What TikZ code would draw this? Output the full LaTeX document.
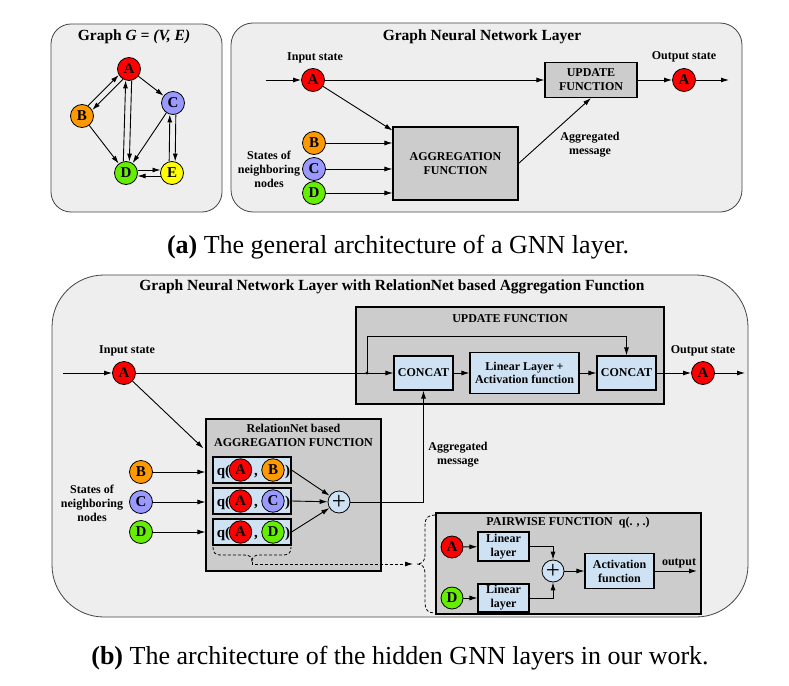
\documentclass[tikz,border=0pt]{standalone}
\usepackage{fontspec}
\setmainfont{Liberation Serif}
\usetikzlibrary{arrows.meta,calc}
\definecolor{panelbg}{HTML}{EEEEEE}
\definecolor{panelline}{HTML}{444444}
\definecolor{boxgray}{HTML}{CCCCCC}
\definecolor{lblue}{HTML}{CFE2F3}
\definecolor{cA}{HTML}{FF0000}
\definecolor{cB}{HTML}{FF9900}
\definecolor{cC}{HTML}{9999FF}
\definecolor{cD}{HTML}{66EE00}
\definecolor{cE}{HTML}{FFFF00}
\newcommand{\lblfont}{\bfseries\fontsize{12}{14}\selectfont}
\newcommand{\ttlfont}{\bfseries\fontsize{15.5}{17}\selectfont}
\newcommand{\circfont}{\bfseries\fontsize{15}{15}\selectfont}
\newcommand{\qfont}{\bfseries\fontsize{15}{15}\selectfont}
\newcommand{\capfont}{\fontsize{26}{30}\selectfont}
\newcommand{\twoway}[2]{%
  \draw[arr,shorten <=11.5pt,shorten >=11.5pt] ($(#1)!3pt!90:(#2)$) -- ($(#2)!3pt!-90:(#1)$);
  \draw[arr,shorten <=11.5pt,shorten >=11.5pt] ($(#2)!3pt!90:(#1)$) -- ($(#1)!3pt!-90:(#2)$);}
\begin{document}
\begin{tikzpicture}[x=1pt,y=-1pt,
  panel/.style={draw=panelline,fill=panelbg,line width=0.8pt},
  gbox/.style={draw=black,fill=boxgray,line width=1.1pt,align=center,inner sep=0pt,font=\lblfont},
  lbox/.style={draw=black,fill=lblue,line width=1.1pt,align=center,inner sep=0pt,font=\lblfont},
  circ/.style={circle,draw=black,line width=0.8pt,minimum size=23pt,inner sep=0pt,font=\circfont},
  pluscirc/.style={circle,draw=black,line width=0.8pt,fill=lblue,minimum size=22pt,inner sep=0pt,font=\fontsize{25}{25}\selectfont},
  arr/.style={-{Latex[length=8pt,width=5pt]},line width=0.9pt},
  lab/.style={font=\lblfont,align=center,inner sep=0pt},
  ttl/.style={font=\ttlfont,inner sep=0pt},
  qtxt/.style={font=\qfont,inner sep=0pt,anchor=base},
  dsh/.style={line width=0.8pt,dash pattern=on 3pt off 2pt},
]
\useasboundingbox (0,0) rectangle (789,685);
\fill[white] (0,0) rectangle (789,685);
% ---------- panel (a) left: graph ----------
\draw[panel,rounded corners=20pt] (51,24) rectangle (222,212);
\node[ttl] (gt) at (134,37) {Graph \textit{G = (V, E)}};
\node[circ,fill=cA] (gA) at (129,69) {A};
\node[circ,fill=cB] (gB) at (82,116) {B};
\node[circ,fill=cC] (gC) at (173,103) {C};
\node[circ,fill=cD] (gD) at (126,173) {D};
\node[circ,fill=cE] (gE) at (172,173) {E};
\twoway{gA}{gB}
\twoway{gA}{gD}
\twoway{gC}{gE}
\twoway{gD}{gE}
\draw[arr] (gA) -- (gC);
\draw[arr] (gB) -- (gD);
\draw[arr] (gC) -- (gD);
% ---------- panel (a) right: GNN layer ----------
\draw[panel,rounded corners=22pt] (231,23) rectangle (742,212);
\node[ttl] (t1) at (482,37) {Graph Neural Network Layer};
\node[lab] (in1) at (315,58) {Input state};
\node[circ,fill=cA] (a1) at (313,80) {A};
\coordinate (s1) at (266,80);
\draw[arr] (s1) -- (a1);
\node[gbox,minimum width=92pt,minimum height=35pt] (upd1) at (591,80) {UPDATE\\FUNCTION};
\draw[arr] (a1) -- (upd1);
\node[circ,fill=cA] (o1) at (684,80) {A};
\node[lab] (ou1) at (684,57) {Output state};
\draw[arr] (upd1) -- (o1);
\coordinate (e1) at (729,80);
\draw[arr] (o1) -- (e1);
\node[gbox,minimum width=125pt,minimum height=73pt] (agg1) at (455.5,163.5) {AGGREGATION\\FUNCTION};
\draw[arr] (a1) -- ($(agg1.north west)+(0,4)$);
\node[circ,fill=cB] (b1) at (314,143) {B};
\node[circ,fill=cC] (c1n) at (314,169) {C};
\node[circ,fill=cD] (d1) at (314,193) {D};
\draw[arr] (b1) -- (b1 -| agg1.west);
\draw[arr] (c1n) -- (c1n -| agg1.west);
\draw[arr] (d1) -- (d1 -| agg1.west);
\node[lab] (st1) at (269,169) {States of\\neighboring\\nodes};
\draw[arr] (agg1.east) -- (upd1.south);
\node[lab] (am1) at (590,145) {Aggregated\\message};
\node[font=\capfont,inner sep=0pt] (capa) at (398,247) {\textbf{(a)} The general architecture of a GNN layer.};
% ---------- panel (b) ----------
\draw[panel,rounded corners=52pt] (52,275) rectangle (748,617);
\node[ttl] (t2) at (392,287) {Graph Neural Network Layer with RelationNet based Aggregation Function};
\node[lab] (in2) at (127,351) {Input state};
\node[circ,fill=cA] (a2) at (124,373) {A};
\coordinate (s2) at (63,373);
\draw[arr] (s2) -- (a2);
\node[gbox,minimum width=308pt,minimum height=97pt] (upd2) at (510,355.5) {};
\node[lab] (ut2) at (510,319) {UPDATE FUNCTION};
\node[lbox,minimum width=59pt,minimum height=34pt] (cc1) at (423.5,373) {CONCAT};
\node[lbox,minimum width=109pt,minimum height=41pt,font=\bfseries\fontsize{12}{13}\selectfont] (lin) at (524.5,373) {Linear Layer +\\Activation function};
\node[lbox,minimum width=59pt,minimum height=34pt] (cc2) at (626.5,373) {CONCAT};
\coordinate (jn) at (367,373);
\draw[arr] (a2) -- (cc1);
\fill (jn) circle (1.6pt);
\draw[arr] (jn) -- ++(0,-37) -| (cc2.north);
\draw[arr] (cc1) -- (lin);
\draw[arr] (lin) -- (cc2);
\node[circ,fill=cA] (o2) at (703,373) {A};
\node[lab] (ou2) at (703,351) {Output state};
\draw[arr] (cc2) -- (o2);
\coordinate (e2) at (745,373);
\draw[arr] (o2) -- (e2);
% aggregation box
\node[gbox,minimum width=175pt,minimum height=152pt] (agg2) at (293.5,495) {};
\node[lab] (at2) at (293.5,435) {RelationNet based\\AGGREGATION FUNCTION};
\foreach \n/\y/\c/\L in {1/470/cB/B,2/501/cC/C,3/532/cD/D}{
  \node[lbox,minimum width=78pt,minimum height=26pt] (q\n) at (252,\y) {};
  \node[qtxt] (qo\n) at (223.5,\y+5) {q(};
  \node[circ,fill=cA,minimum size=22.5pt] (qa\n) at (240.5,\y) {A};
  \node[qtxt] (qm\n) at (256,\y+5) {,};
  \node[circ,fill=\c,minimum size=22.5pt] (qx\n) at (273,\y) {\L};
  \node[qtxt] (qc\n) at (287.5,\y+5) {)};
}
\node[circ,fill=cB] (b2) at (141,472) {B};
\node[circ,fill=cC] (c2n) at (141,502) {C};
\node[circ,fill=cD] (d2) at (141,532) {D};
\draw[arr] (b2) -- (b2 -| agg2.west);
\draw[arr] (c2n) -- (c2n -| agg2.west);
\draw[arr] (d2) -- (d2 -| agg2.west);
\node[lab] (st2) at (92,503) {States of\\neighboring\\nodes};
\draw[arr] (a2) -- ($(agg2.north west)+(-2,30)$);
\node[pluscirc] (pl) at (339,502) {+};
\draw[arr] (q1.east) -- (pl);
\draw[arr] (q2.east) -- (pl);
\draw[arr] (q3.east) -- (pl);
\draw[arr] (pl) -| (cc1.south);
\node[lab] (am2) at (458,455) {Aggregated\\message};
% brace under q boxes
\draw[dsh] (213,547) .. controls (213,553) and (215,555) .. (222,555) -- (244,555) .. controls (250,555) and (252,557) .. (252,562) .. controls (252,557) and (254,555) .. (260,555) -- (282,555) .. controls (289,555) and (291,553) .. (291,547);
\coordinate (brtip) at (252,562);
\coordinate (pbtip) at (413,564);
\draw[arr,dsh] (brtip) |- (pbtip);
% pairwise box
\draw[dsh] (435,515) .. controls (428,515) and (425,518) .. (425,525) -- (425,555) .. controls (425,561) and (422,564) .. (417,564) .. controls (422,564) and (425,567) .. (425,573) -- (425,603) .. controls (425,610) and (428,613) .. (435,613);
\node[gbox,minimum width=265pt,minimum height=101pt] (pw) at (568.5,563.5) {};
\node[lab] (pt) at (568,523) {PAIRWISE FUNCTION\ \ q(. , .)};
\node[circ,fill=cA,minimum size=22pt] (ap) at (452,547) {A};
\node[circ,fill=cD,minimum size=22pt] (dp) at (452,598) {D};
\node[lbox,minimum width=51pt,minimum height=29pt] (l1) at (503.5,546.5) {Linear\\layer};
\node[lbox,minimum width=51pt,minimum height=28pt] (l2) at (503.5,598) {Linear\\layer};
\node[pluscirc] (pp) at (553,571) {+};
\node[lbox,minimum width=69pt,minimum height=35pt] (act) at (619.5,571) {Activation\\function};
\coordinate (outp) at (697,571);
\draw[arr] (ap) -- (l1);
\draw[arr] (dp) -- (l2);
\draw[arr] (l1.east) -| (pp.north);
\draw[arr] (l2.east) -| (pp.south);
\draw[arr] (pp) -- (act);
\draw[arr] (act.east) -- (outp);
\node[lab,anchor=base] (olab) at (679,565) {output};
\node[font=\capfont,inner sep=0pt] (capb) at (400,658) {\textbf{(b)} The architecture of the hidden GNN layers in our work.};
\end{tikzpicture}
\end{document}
